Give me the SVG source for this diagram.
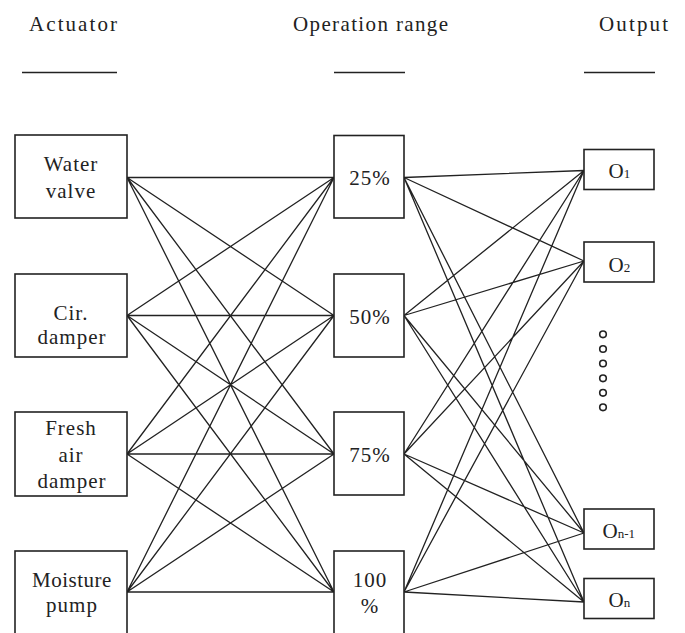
<svg xmlns="http://www.w3.org/2000/svg" width="685" height="633" viewBox="0 0 685 633">
<style>
text{font-family:"Liberation Serif",Tinos,"Nimbus Roman","Nimbus Roman No9 L","DejaVu Serif",FreeSerif,Times,"Times New Roman",serif;font-size:21px;fill:#222}
.lbl{text-anchor:middle;letter-spacing:1px}
.box{fill:#fff;stroke:#222;stroke-width:1.6}
.ln{stroke:#222;stroke-width:1.3;fill:none}
.dot{fill:none;stroke:#222;stroke-width:1.6}
.sub{font-size:13px}
</style>
<rect width="685" height="633" fill="#fff"/>
<g id="headers">
<text x="29" y="31" textLength="88" lengthAdjust="spacing">Actuator</text>
<text x="293" y="31" textLength="155" lengthAdjust="spacing">Operation range</text>
<text x="599" y="31" textLength="69" lengthAdjust="spacing">Output</text>
<line class="ln" x1="22" y1="72.5" x2="117" y2="72.5" stroke-width="1.6"/>
<line class="ln" x1="334" y1="72.5" x2="405" y2="72.5" stroke-width="1.6"/>
<line class="ln" x1="584" y1="72.5" x2="655" y2="72.5" stroke-width="1.6"/>
</g>
<g id="connectors">
<path class="ln" d="M127 177.5L334 177.5M127 177.5L334 315.5M127 177.5L334 454M127 177.5L334 592
M127 315.5L334 177.5M127 315.5L334 315.5M127 315.5L334 454M127 315.5L334 592
M127 454L334 177.5M127 454L334 315.5M127 454L334 454M127 454L334 592
M127 592L334 177.5M127 592L334 315.5M127 592L334 454M127 592L334 592"/>
<path class="ln" d="M404 177.5L584 170.5M404 177.5L584 261M404 177.5L584 533M404 177.5L584 602
M404 315.5L584 170.5M404 315.5L584 261M404 315.5L584 533M404 315.5L584 602
M404 454L584 170.5M404 454L584 261M404 454L584 533M404 454L584 602
M404 592L584 170.5M404 592L584 261M404 592L584 533M404 592L584 602"/>
</g>
<g id="water-valve">
<rect class="box" x="15" y="135" width="112" height="83"/>
<text class="lbl" x="71" y="170.5">Water</text>
<text class="lbl" x="71" y="197.5">valve</text>
</g>
<g id="cir-damper">
<rect class="box" x="15" y="274" width="112" height="83"/>
<text class="lbl" x="71" y="319.5">Cir.</text>
<text class="lbl" x="72" y="343.5" letter-spacing="1.5">damper</text>
</g>
<g id="fresh-air-damper">
<rect class="box" x="15" y="412" width="112" height="84"/>
<text class="lbl" x="71" y="435">Fresh</text>
<text class="lbl" x="71" y="461.5">air</text>
<text class="lbl" x="72" y="487.5" letter-spacing="1.5">damper</text>
</g>
<g id="moisture-pump">
<rect class="box" x="15" y="551" width="112" height="90"/>
<text class="lbl" x="72" y="586.5" style="letter-spacing:0.5px">Moisture</text>
<text class="lbl" x="72" y="612">pump</text>
</g>
<g id="r25">
<rect class="box" x="334" y="135.5" width="70" height="82.5"/>
<text class="lbl" x="370" y="185">25%</text>
</g>
<g id="r50">
<rect class="box" x="334" y="274" width="70" height="83"/>
<text class="lbl" x="370" y="324">50%</text>
</g>
<g id="r75">
<rect class="box" x="334" y="412" width="70" height="83"/>
<text class="lbl" x="370" y="461.5">75%</text>
</g>
<g id="r100">
<rect class="box" x="334" y="551" width="70" height="90"/>
<text class="lbl" x="370" y="586.5">100</text>
<text class="lbl" x="370" y="612.5">%</text>
</g>
<g id="o1">
<rect class="box" x="584" y="149.5" width="70" height="40"/>
<text x="608.5" y="177.5">O<tspan class="sub">1</tspan></text>
</g>
<g id="o2">
<rect class="box" x="584" y="242" width="70" height="40"/>
<text x="608.5" y="271.5">O<tspan class="sub">2</tspan></text>
</g>
<g id="ellipsis">
<circle class="dot" cx="603" cy="334.3" r="3.3"/>
<circle class="dot" cx="603" cy="349" r="3.3"/>
<circle class="dot" cx="603" cy="363.5" r="3.3"/>
<circle class="dot" cx="603" cy="378.3" r="3.3"/>
<circle class="dot" cx="603" cy="392.8" r="3.3"/>
<circle class="dot" cx="603" cy="407.3" r="3.3"/>
</g>
<g id="on-1">
<rect class="box" x="584" y="509" width="70" height="40"/>
<text x="602.5" y="537.5">O<tspan class="sub">n-1</tspan></text>
</g>
<g id="on">
<rect class="box" x="584" y="578.5" width="70" height="40"/>
<text x="608.5" y="606.5">O<tspan class="sub">n</tspan></text>
</g>
</svg>
